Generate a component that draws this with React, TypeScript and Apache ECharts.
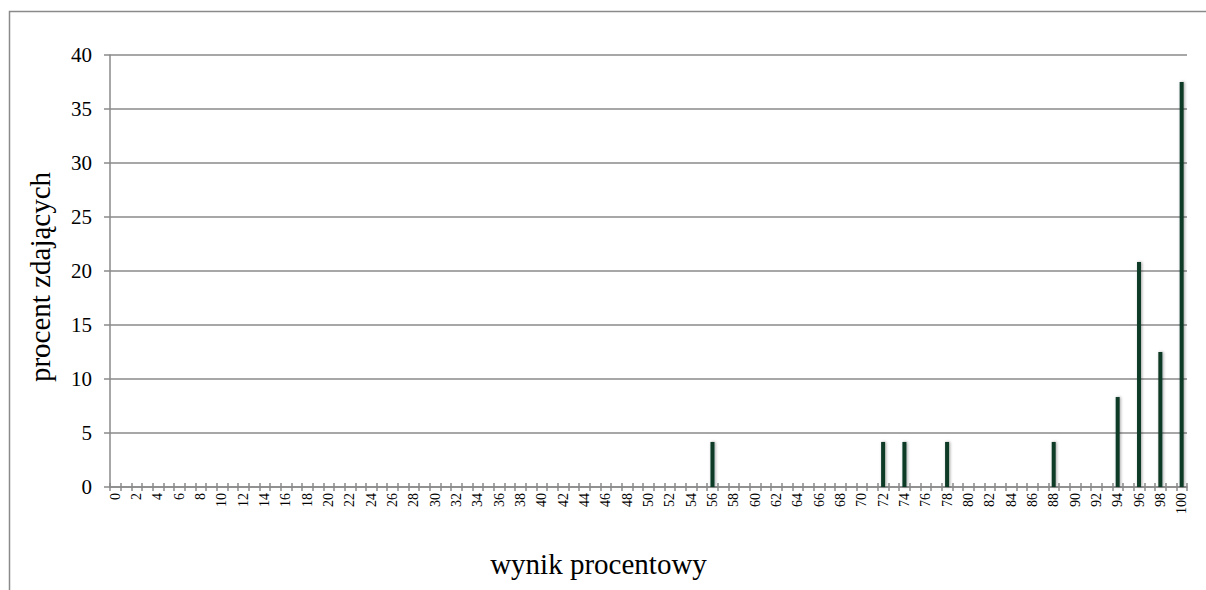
import React, { useEffect, useRef } from "react";
import * as echarts from "echarts";

const categories: string[] = Array.from({ length: 101 }, (_, i) => String(i));
const scoreKeys: number[] = [56, 72, 74, 78, 88, 94, 96, 98, 100];
const scorePercents: number[] = [4.17, 4.17, 4.17, 4.17, 4.17, 8.33, 20.83, 12.5, 37.5];
const yTicks = { min: 0, max: 40, interval: 5 };

const seriesValues: number[] = categories.map((c) => {
  const idx = scoreKeys.indexOf(Number(c));
  return idx >= 0 ? scorePercents[idx] : 0;
});

const font = "Liberation Serif";
const grey = "#8a8a8a";

export default function App() {
  const ref = useRef<HTMLDivElement>(null);
  useEffect(() => {
    if (!ref.current) return;
    const chart = echarts.init(ref.current, null, { renderer: "svg" });
    const gridPos = { left: 110, right: 19, top: 55, bottom: 103, containLabel: false };
    chart.setOption({
      animation: false,
      backgroundColor: "#ffffff",
      textStyle: { fontFamily: font },
      grid: [gridPos, gridPos],
      graphic: [
        {
          type: "rect",
          shape: { x: 9.5, y: 11.5, width: 1400, height: 800 },
          style: { fill: "none", stroke: grey, lineWidth: 1.5 },
          silent: true,
        },
      ],
      xAxis: [
        {
          type: "category",
          gridIndex: 0,
          data: categories,
          boundaryGap: true,
          name: "wynik procentowy",
          nameLocation: "middle",
          nameGap: 62,
          nameTextStyle: { fontFamily: font, fontSize: 29, color: "#000", padding: [0, 100, 0, 0] },
          axisLine: { lineStyle: { color: grey, width: 1.5 } },
          axisTick: { show: true, interval: 0, length: 4, lineStyle: { color: grey, width: 1.5 } },
          axisLabel: {
            interval: 1,
            rotate: 90,
            fontFamily: font,
            fontSize: 14,
            color: "#000",
            margin: 6,
          },
          splitLine: { show: false },
        },
        {
          type: "category",
          gridIndex: 1,
          data: categories,
          boundaryGap: true,
          position: "bottom",
          axisLine: { show: false },
          axisTick: { show: true, inside: true, interval: 0, length: 4, lineStyle: { color: grey, width: 1.5 } },
          axisLabel: { show: false },
          splitLine: { show: false },
        },
      ],
      yAxis: [
        {
          type: "value",
          gridIndex: 0,
          min: yTicks.min,
          max: yTicks.max,
          interval: yTicks.interval,
          name: "procent zdających",
          nameLocation: "middle",
          nameGap: 56,
          nameTextStyle: { fontFamily: font, fontSize: 29, color: "#000", padding: [0, 12, 0, 0] },
          axisLine: { show: true, lineStyle: { color: grey, width: 1.5 } },
          axisTick: { show: true, length: 6, lineStyle: { color: grey, width: 1.5 } },
          axisLabel: { fontFamily: font, fontSize: 21, color: "#000", margin: 18 },
          splitLine: { show: true, lineStyle: { color: grey, width: 1.5 } },
        },
        {
          type: "value",
          gridIndex: 1,
          min: yTicks.min,
          max: yTicks.max,
          interval: yTicks.interval,
          show: false,
        },
      ],
      series: [
        {
          type: "bar",
          xAxisIndex: 0,
          yAxisIndex: 0,
          data: seriesValues,
          barWidth: 4,
          itemStyle: {
            color: "#0b3a28",
            shadowColor: "rgba(0,0,0,0.35)",
            shadowBlur: 3,
            shadowOffsetX: 1,
            shadowOffsetY: 0,
          },
        },
      ],
    });
    return () => chart.dispose();
  }, []);
  return (
    <div
      ref={ref}
      style={{ position: "fixed", left: 0, top: 0, width: 1206, height: 590, background: "#fff" }}
    />
  );
}
